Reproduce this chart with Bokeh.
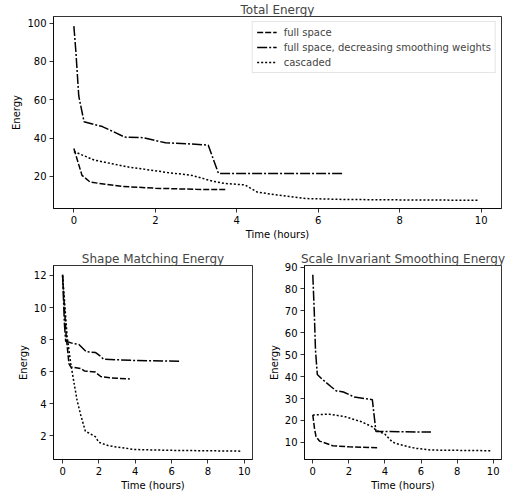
from bokeh.plotting import figure
from bokeh.layouts import column, row
from bokeh.models import Range1d, FixedTicker
from bokeh.embed import file_html
from bokeh.resources import INLINE

# ---------------- data ----------------
# Total Energy
t_full = [0, 0.2, 0.4, 0.8, 1.2, 2.0, 3.0, 3.73]
e_full = [34.5, 20.5, 17.0, 15.8, 14.7, 13.8, 13.2, 13.1]
t_dec = [0, 0.05, 0.12, 0.25, 0.7, 1.25, 1.7, 2.25, 2.8, 3.3, 3.55, 6.6]
e_dec = [98.5, 85, 62, 48.5, 46, 40.5, 40.2, 37.5, 37, 36.3, 21.5, 21.5]
t_cas = [0, 0.5, 1.3, 2.3, 2.9, 3.4, 3.7, 4.2, 4.5, 5.0, 5.7, 6.7, 8.0, 9.92]
e_cas = [33, 28.5, 25, 22, 20.5, 17.5, 16.3, 15.5, 11.8, 10.2, 8.4, 7.9, 7.7, 7.5]

# Shape Matching Energy
t_full_sm = [0, 0.1, 0.2, 0.35, 0.45, 1.0, 1.2, 1.8, 2.1, 2.6, 3.7]
e_full_sm = [12.0, 10.0, 8.2, 6.5, 6.3, 6.2, 6.05, 5.98, 5.7, 5.62, 5.55]
t_dec_sm = [0, 0.05, 0.1, 0.17, 0.6, 0.9, 1.3, 1.8, 2.1, 2.25, 4.0, 6.5]
e_dec_sm = [12.05, 10.5, 9.0, 7.9, 7.75, 7.7, 7.25, 7.2, 6.95, 6.78, 6.7, 6.65]
t_cas_sm = [0, 0.1, 0.25, 0.45, 0.6, 0.8, 1.0, 1.25, 1.8, 2.0, 2.5, 3.0, 4.0, 6.0, 9.85]
e_cas_sm = [12.0, 10.5, 8.2, 6.5, 5.5, 4.2, 3.3, 2.3, 1.95, 1.6, 1.4, 1.3, 1.15, 1.1, 1.05]

# Scale Invariant Smoothing Energy
t_full_sis = [0, 0.1, 0.18, 0.37, 1.1, 2.0, 3.66]
e_full_sis = [22.5, 16, 12.6, 10.6, 8.5, 8.0, 7.5]
t_dec_sis = [0, 0.08, 0.15, 0.25, 0.5, 1.0, 1.3, 1.7, 2.3, 3.3, 3.5, 6.55]
e_dec_sis = [86.5, 70, 52, 41, 39, 35.5, 33.5, 33, 30.7, 29.5, 15, 14.7]
t_cas_sis = [0, 0.9, 1.8, 2.7, 3.3, 3.5, 4.0, 4.4, 4.6, 5.3, 5.7, 6.6, 9.87]
e_cas_sis = [22.5, 22.9, 21.7, 19.4, 17.1, 15.6, 13.7, 10.3, 9.5, 8.0, 7.3, 6.5, 6.2]

series_labels = ["full space", "full space, decreasing smoothing weights", "cascaded"]

x_ticks = [0, 2, 4, 6, 8, 10]
y_ticks_total = [20, 40, 60, 80, 100]
y_ticks_sm = [2, 4, 6, 8, 10, 12]
y_ticks_sis = [10, 20, 30, 40, 50, 60, 70, 80, 90]

FONT = "DejaVu Sans"
DASHES = ["6 2", "10 2 2 2", "2 2"]


def make_fig(title, w, h, mbl, mbr, mbt, mbb, xr, yr, yt):
    p = figure(width=w, height=h, output_backend="svg", toolbar_location=None,
               x_range=Range1d(*xr), y_range=Range1d(*yr),
               min_border_left=mbl, min_border_right=mbr,
               min_border_top=mbt, min_border_bottom=mbb,
               x_axis_label="Time (hours)", y_axis_label="Energy")
    p.title.text = title
    p.title.text_font = FONT
    p.title.text_font_size = "12px"
    p.title.text_font_style = "normal"
    p.title.align = "center"
    p.title.standoff = 0
    p.title.offset = 0
    p.grid.visible = False
    p.outline_line_color = "black"
    p.outline_line_width = 0.8
    p.outline_line_alpha = 1
    p.background_fill_color = "white"
    p.border_fill_color = "white"
    p.xaxis.ticker = FixedTicker(ticks=x_ticks)
    p.yaxis.ticker = FixedTicker(ticks=yt)
    for ax in (p.xaxis[0], p.yaxis[0]):
        ax.axis_line_color = "black"
        ax.axis_line_width = 0.8
        ax.major_tick_line_color = "black"
        ax.major_tick_line_width = 0.8
        ax.major_tick_out = 4
        ax.major_tick_in = 0
        ax.minor_tick_line_color = None
        ax.major_label_text_font = FONT
        ax.major_label_text_font_size = "10px"
        ax.major_label_text_color = "black"
        ax.major_label_standoff = 3
        ax.axis_label_text_font = FONT
        ax.axis_label_text_font_size = "10px"
        ax.axis_label_text_font_style = "normal"
        ax.axis_label_text_color = "black"
        ax.axis_label_standoff = 2
    return p


def add_lines(p, data, legend=False):
    for (t, e), dash, lab in zip(data, DASHES, series_labels):
        kw = dict(legend_label=lab) if legend else {}
        p.line(t, e, line_color="black", line_width=1.5, line_dash=dash, **kw)


p1 = make_fig("Total Energy", 511, 245, 53, 10, 14, 37,
              (-0.5, 10.5), (3.2, 103.5), y_ticks_total)
add_lines(p1, [(t_full, e_full), (t_dec, e_dec), (t_cas, e_cas)], legend=True)
lg = p1.legend[0]
lg.location = "top_right"
lg.margin = 5
lg.padding = 4
lg.spacing = 3
lg.glyph_width = 20
lg.glyph_height = 12
lg.label_height = 12
lg.label_standoff = 7
lg.label_text_font = FONT
lg.label_text_font_size = "10px"
lg.border_line_color = "#cccccc"
lg.border_line_width = 1
lg.background_fill_alpha = 0.8

p2 = make_fig("Shape Matching Energy", 265, 252, 53, 13, 20, 38,
              (-0.5, 10.45), (0.53, 12.62), y_ticks_sm)
add_lines(p2, [(t_full_sm, e_full_sm), (t_dec_sm, e_dec_sm), (t_cas_sm, e_cas_sm)])

p3 = make_fig("Scale Invariant Smoothing Energy", 246, 252, 37, 10, 20, 38,
              (-0.46, 10.46), (2.2, 90.7), y_ticks_sis)
add_lines(p3, [(t_full_sis, e_full_sis), (t_dec_sis, e_dec_sis), (t_cas_sis, e_cas_sis)])

layout = column(p1, row(p2, p3))

open("out.html", "w").write(file_html(layout, INLINE))
